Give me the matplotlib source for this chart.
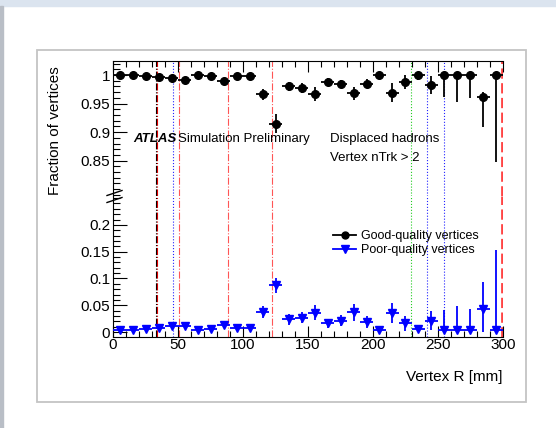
import matplotlib
matplotlib.use("Agg")
import matplotlib.pyplot as plt
from matplotlib.lines import Line2D
from matplotlib.patches import Rectangle
from matplotlib.ticker import MultipleLocator

plt.rcParams['font.family'] = ['Liberation Sans', 'DejaVu Sans']

# bin centres of Vertex R [mm], 10 mm bins
r_bins = [5, 15, 25, 35, 45, 55, 65, 75, 85, 95, 105, 115, 125, 135, 145,
          155, 165, 175, 185, 195, 205, 215, 225, 235, 245, 255, 265, 275, 285, 295]

good = [1.0, 1.0, 0.999, 0.996, 0.994, 0.992, 1.0, 0.999, 0.990, 0.998, 0.998, 0.966, 0.915, 0.980, 0.977,
        0.967, 0.988, 0.984, 0.968, 0.985, 1.0, 0.969, 0.988, 1.0, 0.983, 1.0, 1.0, 1.0, 0.962, 1.0]
good_lo = [0.001, 0.001, 0.001, 0.002, 0.002, 0.002, 0.001, 0.001, 0.003, 0.002, 0.002, 0.009, 0.016, 0.008, 0.009,
           0.012, 0.007, 0.007, 0.011, 0.008, 0.006, 0.017, 0.013, 0.008, 0.016, 0.038, 0.047, 0.041, 0.053, 0.152]
good_hi = [0.0, 0.0, 0.001, 0.002, 0.002, 0.002, 0.0, 0.001, 0.003, 0.002, 0.002, 0.009, 0.016, 0.008, 0.009,
           0.012, 0.007, 0.007, 0.011, 0.008, 0.0, 0.017, 0.012, 0.0, 0.016, 0.0, 0.0, 0.0, 0.009, 0.0]

poor = [0.003, 0.003, 0.005, 0.008, 0.011, 0.011, 0.003, 0.005, 0.014, 0.007, 0.008, 0.037, 0.087, 0.024, 0.027,
        0.036, 0.016, 0.021, 0.037, 0.019, 0.003, 0.036, 0.016, 0.005, 0.021, 0.003, 0.003, 0.003, 0.043, 0.003]
poor_lo = [0.003, 0.003, 0.003, 0.004, 0.004, 0.004, 0.003, 0.003, 0.005, 0.004, 0.004, 0.011, 0.014, 0.010, 0.010,
           0.014, 0.009, 0.010, 0.016, 0.011, 0.003, 0.019, 0.014, 0.005, 0.018, 0.003, 0.003, 0.003, 0.043, 0.003]
poor_hi = [0.003, 0.003, 0.003, 0.004, 0.004, 0.004, 0.003, 0.003, 0.005, 0.004, 0.004, 0.011, 0.014, 0.010, 0.010,
           0.014, 0.009, 0.010, 0.016, 0.011, 0.006, 0.019, 0.014, 0.008, 0.018, 0.039, 0.045, 0.040, 0.051, 0.150]

# detector layer positions [mm] and their line styles
layer_r = [33.0, 33.8, 46.5, 50.5, 88.5, 122.5, 229.0, 241.5, 254.5]
layer_col = ['black', '#dd0000', '#2222ff', '#ff5555', '#ff5555', '#ff5555', '#22cc22', '#2222ff', '#2222ff']
layer_ls = ['-.', '-.', ':', '-.', '-.', '-.', ':', ':', ':']
sct_r = 299.3

fig = plt.figure(figsize=(5.56, 4.28), dpi=100)

# window chrome and the panel frame
fig.patches.append(Rectangle((0, 1 - 6 / 428), 1, 6 / 428, transform=fig.transFigure,
                             color='#dbe4ef', zorder=-2))
fig.patches.append(Rectangle((0, 0), 3 / 556, 1 - 6 / 428, transform=fig.transFigure,
                             color='#b9bec6', zorder=-2))
fig.patches.append(Rectangle((37 / 556, 1 - 402 / 428), 489 / 556, 352 / 428, transform=fig.transFigure,
                             facecolor='white', edgecolor='#c4c4c4', lw=1.3, zorder=-2))

left, width = 113 / 556, 390 / 556
ax_top = fig.add_axes([left, 1 - 196 / 428, width, 135 / 428])
ax_bot = fig.add_axes([left, 1 - 337 / 428, width, 141 / 428])

for ax in (ax_top, ax_bot):
    ax.set_zorder(2)
    ax.patch.set_alpha(0)
    for r, c, ls in zip(layer_r, layer_col, layer_ls):
        ax.axvline(r, color=c, ls=ls, lw=0.8, zorder=1)
    ax.axvline(sct_r, color='#ff4444', ls='--', lw=2, zorder=1)
    ax.set_xlim(0, 300)
    ax.spines['right'].set_visible(False)
    ax.xaxis.set_major_locator(MultipleLocator(50))
    ax.xaxis.set_minor_locator(MultipleLocator(10))
    ax.tick_params(which='both', direction='in', top=True, labelsize=11, pad=2, width=0.8)
    ax.tick_params(which='major', length=8)
    ax.tick_params(which='minor', length=4)
    ax.tick_params(axis='y', which='minor', length=5)
    ax.tick_params(axis='y', which='major', length=10)

ax_top.errorbar(r_bins, good, yerr=[good_lo, good_hi], xerr=5, fmt='o', color='black',
                ms=5.5, elinewidth=1.3, capsize=0, zorder=3)
ax_top.set_ylim(0.788, 1.0246)
ax_top.set_yticks([0.85, 0.9, 0.95, 1.0])
ax_top.set_yticklabels(['0.85', '0.9', '0.95', '1'])
ax_top.yaxis.set_minor_locator(MultipleLocator(0.01))
ax_top.spines['bottom'].set_visible(False)
ax_top.tick_params(axis='x', which='both', bottom=False, labelbottom=False)

ax_bot.errorbar(r_bins, poor, yerr=[poor_lo, poor_hi], xerr=5, fmt='v', color='blue',
                ms=5.5, elinewidth=1.3, capsize=0, zorder=3)
ax_bot.set_ylim(-0.0093, 0.254)
ax_bot.set_yticks([0, 0.05, 0.1, 0.15, 0.2])
ax_bot.set_yticklabels(['0', '0.05', '0.1', '0.15', '0.2'])
ax_bot.yaxis.set_minor_locator(MultipleLocator(0.01))
ax_bot.spines['top'].set_visible(False)
ax_bot.tick_params(axis='x', which='both', top=False)
ax_bot.tick_params(axis='x', which='major', pad=1)

# axis break marks
for yb in (193, 200):
    fig.add_artist(Line2D([107 / 556, 122 / 556], [1 - (yb + 2.5) / 428, 1 - (yb - 2.5) / 428],
                          color='black', lw=1.0))

leg_good = Line2D([], [], color='black', marker='o', ms=5, lw=1.3)
leg_poor = Line2D([], [], color='blue', marker='v', ms=5.5, lw=1.3)
fig.legend([leg_good, leg_poor], ['Good-quality vertices', 'Poor-quality vertices'],
           loc='upper left', bbox_to_anchor=(327 / 556, 1 - 224 / 428), frameon=False,
           fontsize=9, handlelength=1.8, handletextpad=0.4, labelspacing=0.15, borderpad=0)

fig.text(133 / 556, 1 - 139 / 428, 'ATLAS', fontsize=9.5, fontweight='bold', fontstyle='italic', va='center')
fig.text(178 / 556, 1 - 139 / 428, 'Simulation Preliminary', fontsize=9.5, va='center')
fig.text(330 / 556, 1 - 139 / 428, 'Displaced hadrons', fontsize=9.5, va='center')
fig.text(330 / 556, 1 - 158 / 428, 'Vertex nTrk > 2', fontsize=9.5, va='center')

fig.text(55 / 556, 1 - 131 / 428, 'Fraction of vertices', fontsize=11, rotation=90, ha='center', va='center')
fig.text(503 / 556, 1 - 377 / 428, 'Vertex R [mm]', fontsize=11, ha='right', va='center')

fig.savefig('out.png', dpi=100)
